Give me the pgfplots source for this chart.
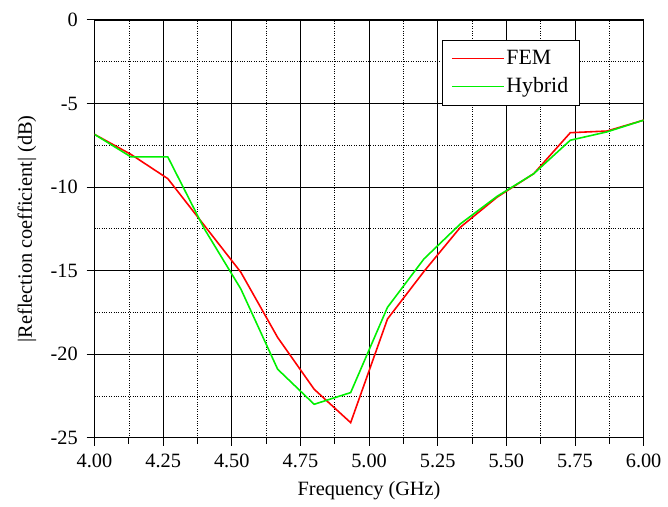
\documentclass[border=0pt]{standalone}
\usepackage{pgfplots}
\pgfplotsset{compat=1.18}
\usepackage{fontspec}
\setmainfont{Liberation Serif}
\definecolor{femred}{RGB}{255,0,0}
\definecolor{hybgreen}{RGB}{0,240,0}
\begin{document}
\fontsize{20}{24}\selectfont
\begin{tikzpicture}
\begin{axis}[
  name=main,
  scale only axis,
  width=552bp, height=420bp,
  xmin=4, xmax=6, ymin=-25, ymax=0,
  xtick={4,4.25,...,6.01},
  xticklabels={4.00,4.25,4.50,4.75,5.00,5.25,5.50,5.75,6.00},
  minor xtick={4.125,4.375,...,6},
  ytick={-25,-20,...,0},
  yticklabels={-25,-20,-15,-10,-5,0},
  minor ytick={-22.5,-17.5,...,0},
  tick align=outside,
  xtick pos=left, ytick pos=left,
  major tick length=8bp,
  minor tick length=6bp,
  minor y tick style={draw=none},
  grid=both,
  major grid style={black, line width=0.6pt},
  minor grid style={black, dotted, line width=0.6pt},
  axis line style={black, line width=0.8pt},
  tick style={black, line width=0.8pt},
  tick label style={font=\fontsize{20.5}{24}\selectfont},
  label style={font=\fontsize{20.5}{24}\selectfont},
  xticklabel style={yshift=-2bp},
  yticklabel style={xshift=-2bp},
  xlabel={Frequency (GHz)},
  ylabel={|Reflection coefficient| (dB)},
  xlabel style={at={(axis description cs:0.5,-0.126)}, anchor=center},
  ylabel style={at={(axis description cs:-0.123,0.5)}, anchor=center},
  legend style={at={(0.633,0.952)}, anchor=north west, draw=black,
    font=\fontsize{22}{26}\selectfont, row sep=6bp, inner xsep=9bp, inner ysep=8bp},
  legend cell align=left,
  legend image code/.code={\draw[#1, line width=1.5pt] (0bp,0bp) -- (52bp,0bp);},
]
\addplot[femred, line width=1.6pt] coordinates {
(4.000,-6.85) (4.133,-8.05) (4.267,-9.5) (4.400,-12.3) (4.533,-15.1)
(4.667,-19.0) (4.800,-22.1) (4.933,-24.1) (5.067,-17.9) (5.200,-15.05)
(5.333,-12.4) (5.467,-10.6) (5.600,-9.2) (5.733,-6.75) (5.867,-6.65) (6.000,-6.0)};
\addlegendentry{FEM}
\addplot[hybgreen, line width=1.6pt] coordinates {
(4.000,-6.85) (4.133,-8.2) (4.267,-8.2) (4.400,-12.5) (4.533,-16.1)
(4.667,-20.9) (4.800,-23.0) (4.933,-22.3) (5.067,-17.2) (5.200,-14.3)
(5.333,-12.2) (5.467,-10.55) (5.600,-9.2) (5.733,-7.2) (5.867,-6.7) (6.000,-6.0)};
\addlegendentry{Hybrid}
\end{axis}
\path ([xshift=-95bp,yshift=20bp]main.north west) rectangle ([xshift=21bp,yshift=-66bp]main.south east);
\end{tikzpicture}
\end{document}
